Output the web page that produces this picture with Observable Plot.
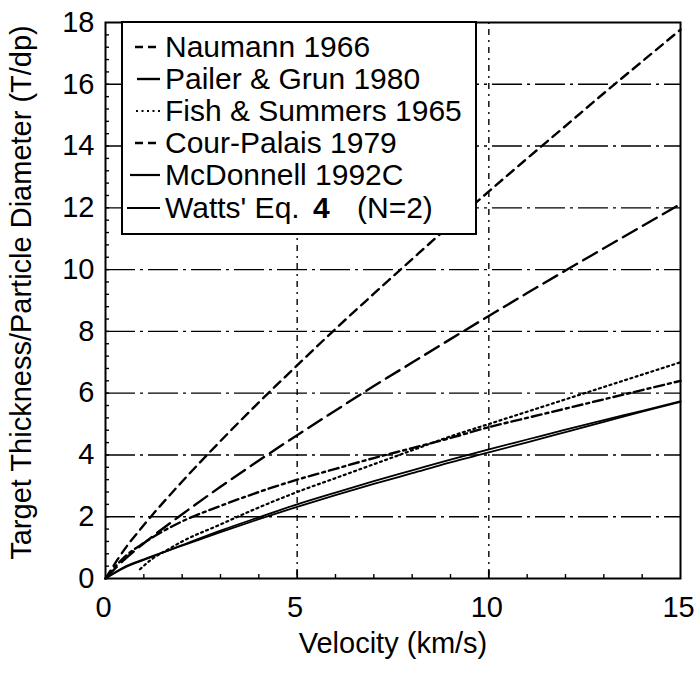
<!DOCTYPE html>
<html>
<head>
<meta charset="utf-8">
<script src="https://cdn.jsdelivr.net/npm/d3@7"></script>
<script src="https://cdn.jsdelivr.net/npm/@observablehq/plot@0.6"></script>
<style>
  html, body { margin: 0; padding: 0; background: #fff; }
  #wrap { position: relative; width: 695px; height: 681px; font-family: "Liberation Sans", Arial, Helvetica, sans-serif; }
  #legend { position: absolute; left: 121px; top: 21px; }
</style>
</head>
<body>
<div id="wrap"></div>
<script>
// ---- data ----
const velocity   = [0, 0.5, 1, 2, 3, 4, 5, 6, 7, 8, 9, 10, 11, 12, 13, 14, 15];
const naumann    = [0, 0.95, 1.73, 3.14, 4.45, 5.70, 6.90, 8.08, 9.22, 10.34, 11.45, 12.53, 13.60, 14.65, 15.71, 16.74, 17.77];
const pailer     = [0, 0.62, 1.14, 2.08, 2.97, 3.82, 4.64, 5.44, 6.23, 6.99, 7.75, 8.50, 9.24, 9.97, 10.69, 11.41, 12.12];
const courPalais = [0, 0.70, 1.15, 1.85, 2.35, 2.80, 3.20, 3.55, 3.90, 4.22, 4.55, 4.90, 5.20, 5.50, 5.80, 6.10, 6.40];
const mcdonnell  = [0, 0.35, 0.60, 1.08, 1.55, 1.98, 2.40, 2.78, 3.15, 3.50, 3.85, 4.18, 4.50, 4.82, 5.13, 5.43, 5.74];
const watts      = [0, 0.38, 0.62, 1.06, 1.50, 1.92, 2.32, 2.70, 3.06, 3.41, 3.76, 4.08, 4.41, 4.74, 5.07, 5.40, 5.72];
const fishVelocity = [0.9, 1.2, 1.6, 2, 3, 4, 5, 6, 7, 8, 9, 10, 11, 12, 13, 14, 15];
const fishSummers  = [0.3, 0.62, 0.92, 1.2, 1.75, 2.3, 2.8, 3.25, 3.7, 4.15, 4.6, 5.0, 5.4, 5.8, 6.2, 6.6, 7.0];

const xTickLabels = [0, 5, 10, 15];
const yTickLabels = [0, 2, 4, 6, 8, 10, 12, 14, 16, 18];
const xMajorTicks = [5, 10];
const xMinorTicks = [1, 2, 3, 4, 6, 7, 8, 9, 11, 12, 13, 14];
const yMinorTicks = d3.range(1, 45).map(i => +(i * 0.4).toFixed(1));
const gridY = [2, 4, 6, 8, 10, 12, 14, 16];
const gridX = [5, 10];

const xTitle = "Velocity (km/s)";
const yTitle = "Target Thickness/Particle Diameter (T/dp)";

const legendNames = ["Naumann 1966", "Pailer & Grun 1980", "Fish & Summers 1965", "Cour-Palais 1979", "McDonnell 1992C", "Watts' Eq. 4 (N=2)"];

const toRows = (xs, ys) => xs.map((v, i) => ({v, t: ys[i]}));

const FONT = "Liberation Sans, Arial, Helvetica, sans-serif";

const chart = Plot.plot({
  width: 695,
  height: 681,
  marginLeft: 105,
  marginRight: 15,
  marginTop: 22,
  marginBottom: 103,
  style: {fontFamily: FONT, background: "#fff", color: "#000"},
  x: {domain: [0, 15]},
  y: {domain: [0, 18]},
  marks: [
    // grid
    Plot.ruleY(gridY, {stroke: "#000", strokeWidth: 1.4, strokeDasharray: "30,5,3,5"}),
    Plot.ruleX(gridX, {stroke: "#000", strokeWidth: 1.4, strokeDasharray: "2,5,6,5"}),
    // curves
    Plot.line(toRows(velocity, naumann), {x: "v", y: "t", curve: "monotone-x", stroke: "#000", strokeWidth: 2.4, strokeDasharray: "9,6"}),
    Plot.line(toRows(velocity, pailer), {x: "v", y: "t", curve: "monotone-x", stroke: "#000", strokeWidth: 2.4, strokeDasharray: "16,7"}),
    Plot.line(toRows(fishVelocity, fishSummers), {x: "v", y: "t", curve: "monotone-x", stroke: "#000", strokeWidth: 2.2, strokeDasharray: "2,3.5"}),
    Plot.line(toRows(velocity, courPalais), {x: "v", y: "t", curve: "monotone-x", stroke: "#000", strokeWidth: 2.4, strokeDasharray: "10,4,3,4"}),
    Plot.line(toRows(velocity, mcdonnell), {x: "v", y: "t", curve: "monotone-x", stroke: "#000", strokeWidth: 1.8}),
    Plot.line(toRows(velocity, watts), {x: "v", y: "t", curve: "monotone-x", stroke: "#000", strokeWidth: 1.8}),
    // frame
    Plot.frame({stroke: "#000", strokeWidth: 2}),
    // inward ticks
    Plot.axisX(xMinorTicks, {anchor: "bottom", tickSize: -4, tickFormat: () => "", strokeWidth: 1.4, label: null}),
    Plot.axisX(xMajorTicks, {anchor: "bottom", tickSize: -8, tickFormat: () => "", strokeWidth: 1.8, label: null}),
    Plot.axisY(yMinorTicks, {anchor: "left", tickSize: -4, tickFormat: () => "", strokeWidth: 1.4, label: null}),
    // tick labels
    Plot.axisX(xTickLabels, {anchor: "bottom", tickSize: 0, tickPadding: 18, dx: -2, fontSize: 29, label: null}),
    Plot.axisY(yTickLabels, {anchor: "left", tickSize: 0, tickPadding: 11, fontSize: 29, label: null}),
    // axis titles
    Plot.text([xTitle], {frameAnchor: "bottom", dy: 65, lineAnchor: "middle", textAnchor: "middle", fontSize: 29, fill: "#000"}),
    Plot.text([yTitle], {frameAnchor: "left", dx: -84, dy: -8, rotate: -90, lineAnchor: "middle", textAnchor: "middle", fontSize: 29, fill: "#000"})
  ]
});

const wrap = document.getElementById("wrap");
wrap.appendChild(chart);

// legend box inside the plot area (overlay)
const ns = "http://www.w3.org/2000/svg";
const leg = document.createElementNS(ns, "svg");
leg.setAttribute("id", "legend");
leg.setAttribute("width", 358);
leg.setAttribute("height", 216);
leg.style.fontFamily = FONT;
const styles = [
  {x1: 14, x2: 39, dash: "8,5", w: 2.4},
  {x1: 16, x2: 39, dash: null, w: 2.4},
  {x1: 15, x2: 40, dash: "2,3.5", w: 2.2},
  {x1: 14, x2: 39, dash: "8,5", w: 2.4},
  {x1: 9, x2: 39, dash: null, w: 2.2},
  {x1: 6, x2: 39, dash: null, w: 2.2}
];
const baselines = [36, 68, 100, 132, 164, 197];
let html = `<rect x="1" y="1" width="354" height="212" fill="#fff" stroke="#000" stroke-width="2"/>`;
legendNames.forEach((name, i) => {
  const s = styles[i];
  const yl = baselines[i] - 10;
  html += `<line x1="${s.x1}" x2="${s.x2}" y1="${yl}" y2="${yl}" stroke="#000" stroke-width="${s.w}" ${s.dash ? `stroke-dasharray="${s.dash}"` : ""}/>`;
  if (i === 5) {
    html += `<text x="44" y="${baselines[i]}" font-size="30" fill="#000">Watts' Eq.<tspan x="192" font-weight="bold">4</tspan><tspan x="236">(N=2)</tspan></text>`;
  } else {
    const esc = name.replace(/&/g, "&amp;");
    html += `<text x="44" y="${baselines[i]}" font-size="30" fill="#000">${esc}</text>`;
  }
});
leg.innerHTML = html;
wrap.appendChild(leg);
</script>
</body>
</html>
